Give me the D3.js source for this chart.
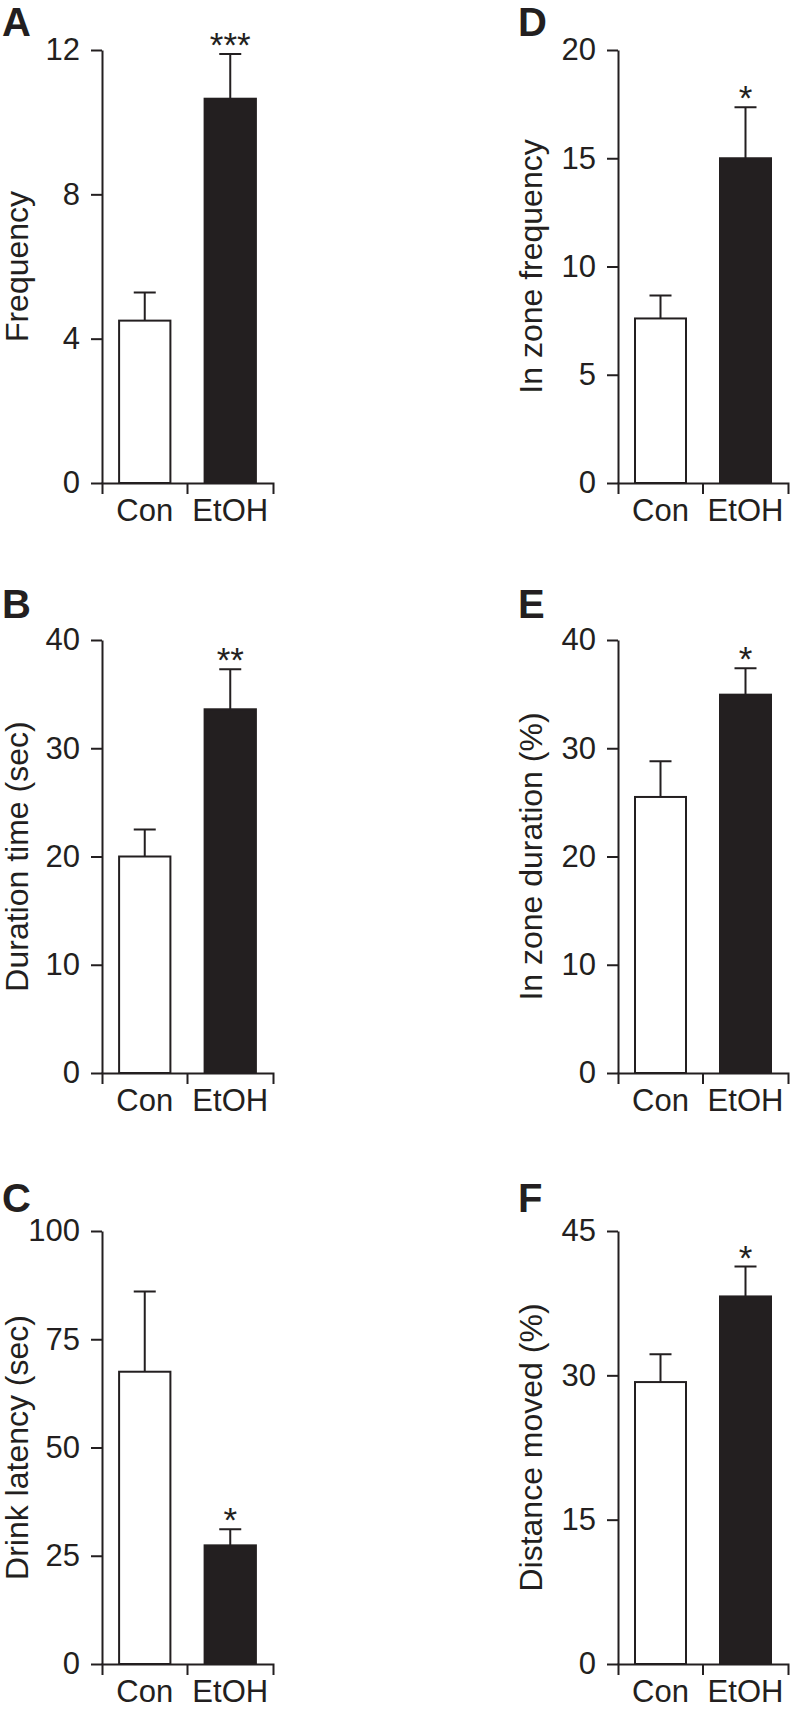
<!DOCTYPE html>
<meta charset="utf-8">
<script src="https://d3js.org/d3.v7.min.js"></script>
<html>
  <head>
    <style>
    body { margin: 0; background-color: white; }
    text { font-family: "Liberation Sans", Arial, sans-serif; fill: #231f20; }
    .letter { font-family: "Liberation Sans Narrow", "Liberation Sans", Arial, sans-serif; font-weight: bold; }
    </style>
    <title>Con vs EtOH</title>
  </head>
  <body>
    <div id="my_dataviz"></div>
  </body>
</html>

<script>

// ---- data ----
var groups = ["Con", "EtOH"];
var panelNames = ["A", "B", "C", "D", "E", "F"];
var yLabels = ["Frequency", "Duration time (sec)", "Drink latency (sec)",
               "In zone frequency", "In zone duration (%)", "Distance moved (%)"];
var yMax = [12, 40, 100, 20, 40, 45];
var yTicks = [[0, 4, 8, 12], [0, 10, 20, 30, 40], [0, 25, 50, 75, 100],
              [0, 5, 10, 15, 20], [0, 10, 20, 30, 40], [0, 15, 30, 45]];
var means = [[4.5, 10.65], [20.0, 33.6], [67.5, 27.4],
             [7.6, 15.0], [25.5, 34.95], [29.3, 38.2]];
var errors = [[0.78, 1.24], [2.5, 3.7], [18.5, 3.7],
              [1.06, 2.35], [3.3, 2.45], [2.9, 3.1]];
var stars = ["***", "**", "*", "*", "*", "*"];

// ---- layout ----
var colX = [102, 618],      // y axis position of each column
    axisW = [171, 170],
    rowTop = [50, 640, 1231],
    plotH = 433,
    labelX = [28, 542],     // baseline of rotated y labels
    letterX = [2, 518],
    letterY = [36, 618, 1212];
var ink = "#231f20";

var svg = d3.select("#my_dataviz")
  .append("svg")
    .attr("width", 790)
    .attr("height", 1710);

panelNames.forEach(function(name, i) {
  var col = Math.floor(i / 3), row = i % 3;
  var x0 = colX[col], top = rowTop[row], bottom = top + plotH;

  var x = d3.scaleBand()
    .domain(groups)
    .range([x0, x0 + axisW[col]])
    .paddingInner(0.4)
    .paddingOuter(0.2);

  var y = d3.scaleLinear()
    .domain([0, yMax[i]])
    .range([bottom, top]);

  var g = svg.append("g");

  // bars
  g.selectAll("rect.bar")
    .data(groups)
    .enter()
    .append("rect")
      .attr("x", function(d) { return x(d); })
      .attr("width", x.bandwidth())
      .attr("y", function(d, j) { return y(means[i][j]); })
      .attr("height", function(d, j) { return bottom - y(means[i][j]); })
      .style("fill", function(d, j) { return j == 0 ? "white" : ink; })
      .style("stroke", ink)
      .style("stroke-width", 2);

  // error bars (upper only)
  var cap = 11;
  groups.forEach(function(d, j) {
    var cx = x(d) + x.bandwidth() / 2;
    var yt = y(means[i][j] + errors[i][j]);
    g.append("path")
      .attr("d", "M" + cx + "," + y(means[i][j]) + "V" + yt +
                 "M" + (cx - cap) + "," + yt + "H" + (cx + cap))
      .style("fill", "none")
      .style("stroke", ink)
      .style("stroke-width", 2);
  });

  // significance stars above EtOH
  var ex = x("EtOH") + x.bandwidth() / 2;
  g.append("text")
    .attr("x", ex)
    .attr("y", y(means[i][1] + errors[i][1]) + 3)
    .attr("text-anchor", "middle")
    .attr("font-size", 35)
    .text(stars[i]);

  // y axis
  var yAxis = g.append("g")
    .attr("transform", "translate(" + x0 + ",0)")
    .call(d3.axisLeft(y).tickValues(yTicks[i]).tickSize(11).tickSizeOuter(0).tickPadding(11));
  yAxis.selectAll("path, line").attr("stroke", ink).attr("stroke-width", 2);
  yAxis.selectAll("text").attr("font-size", 31).attr("fill", ink);

  // x axis: outer ticks at both ends, one tick between the groups
  var xAxis = g.append("g")
    .attr("transform", "translate(0," + bottom + ")")
    .call(d3.axisBottom(x).tickSize(0).tickSizeOuter(11).tickPadding(16));
  xAxis.select(".domain").attr("stroke", ink).attr("stroke-width", 2);
  xAxis.selectAll("text").attr("font-size", 31).attr("fill", ink);
  var mid = (x("Con") + x("EtOH") + x.bandwidth()) / 2;
  xAxis.append("line")
    .attr("x1", mid).attr("x2", mid)
    .attr("y1", 0).attr("y2", 11)
    .attr("stroke", ink).attr("stroke-width", 2);

  // y label
  g.append("text")
    .attr("transform", "translate(" + labelX[col] + "," + (top + bottom) / 2 + ") rotate(-90)")
    .attr("text-anchor", "middle")
    .attr("font-size", 32)
    .text(yLabels[i]);

  // panel letter
  g.append("text")
    .attr("class", "letter")
    .attr("x", letterX[col])
    .attr("y", letterY[row])
    .attr("font-size", 40)
    .text(name);
});

</script>
